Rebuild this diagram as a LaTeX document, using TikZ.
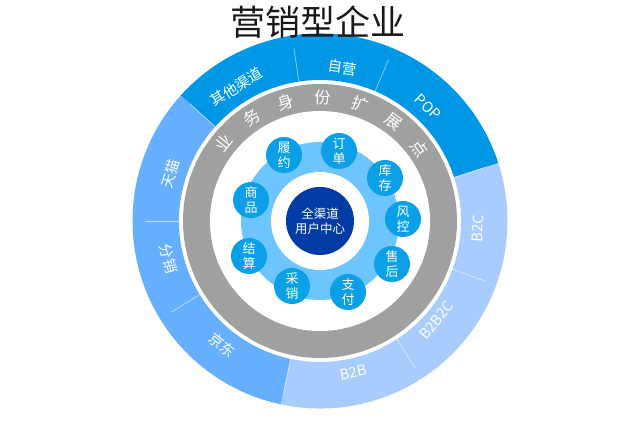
\documentclass[tikz,border=0pt]{standalone}
\usepackage{fontspec}
\setmainfont{Noto Sans CJK SC}
\usetikzlibrary{calc}
\definecolor{ringtop}{HTML}{0098E6}
\definecolor{ringleft}{HTML}{66AFFF}
\definecolor{ringbottom}{HTML}{A9CCFF}
\definecolor{bandgray}{HTML}{A0A0A0}
\definecolor{corelight}{HTML}{6CC5FF}
\definecolor{coredark}{HTML}{003BA6}
\definecolor{capblue}{HTML}{0A9FE6}
% annular sector: colour, start angle, end angle, inner radius, outer radius
\newcommand{\ringseg}[5]{%
  \fill[#1] ($(O)+(#2:#5)$) arc[start angle=#2, end angle=#3, radius=#5]
    -- ($(O)+(#3:#4)$) arc[start angle=#3, end angle=#2, radius=#4] -- cycle;}

\begin{document}
\begin{tikzpicture}[x=1pt, y=1pt,
    seam/.style={white, opacity=0.55, line width=0.7pt},
    seglabel/.style={text=white, font=\fontsize{14.5}{14.5}\selectfont, inner sep=0pt},
    bandchar/.style={text=white, font=\fontsize{16.5}{16.5}\selectfont, inner sep=0pt},
    capnode/.style={circle, fill=capblue, minimum size=36pt, inner sep=0pt, align=center, text=white, font=\fontsize{13}{15}\selectfont},
    hubnode/.style={circle, fill=coredark, minimum size=68pt, inner sep=0pt, align=center, text=white, font=\fontsize{12.5}{15}\selectfont}
  ]
    \useasboundingbox (0,0) rectangle (640,441);
    \coordinate (O) at (320,220);

    % channel ring
    \ringseg{ringtop}{18}{138}{141}{187.5}
    \ringseg{ringleft}{138}{258}{141}{187.5}
    \ringseg{ringbottom}{258}{378}{141}{187.5}
    \foreach \a in {18,67,98.6,138,180,211.5,258,303,340}
      \draw[seam] ($(O)+(\a:141)$) -- ($(O)+(\a:175)$);

    \foreach \t/\a/\r [count=\i] in {其他渠道/121.9/158, 自营/81.6/155, POP/46.5/157, 天猫/162.5/157}
      \node[seglabel, rotate=\a-90] (seg\i) at ($(O)+(\a:\r)$) {\t};
    \foreach \t/\a/\r [count=\i from 5] in {分销/194/156, 京东/231.7/158, B2B/282.4/155, B2B2C/319.6/153, B2C/357.2/158}
      \node[seglabel, rotate=\a+90] (seg\i) at ($(O)+(\a:\r)$) {\t};

    % extension band
    \fill[bandgray] (O) circle[radius=137];
    \fill[white] (O) circle[radius=110];
    \foreach \c [count=\i from 0] in {业,务,身,份,扩,展,点}
      \node[bandchar, rotate={51-17.5*\i}] (band\i) at ($(O)+({141-17.5*\i}:123.5)$) {\c};

    % core
    \fill[corelight] (O) circle[radius=79];
    \fill[white] (O) circle[radius=49];
    \node[hubnode] (hub) at (O) {全渠道\\用户中心};

    \foreach \capa/\capb/\x/\y [count=\i] in {履/约/284/286, 订/单/339/290, 库/存/385/263,
        风/控/403/222, 售/后/392/177, 支/付/348/149, 采/销/292/155, 结/算/249/185, 商/品/251/241}
      \node[capnode] (cap\i) at (\x,\y) {\capa\\\capb};

    \node[font=\fontsize{35}{35}\selectfont, text=black!90] (title) at (317.5,419) {营销型企业};
  \end{tikzpicture}
\end{document}
